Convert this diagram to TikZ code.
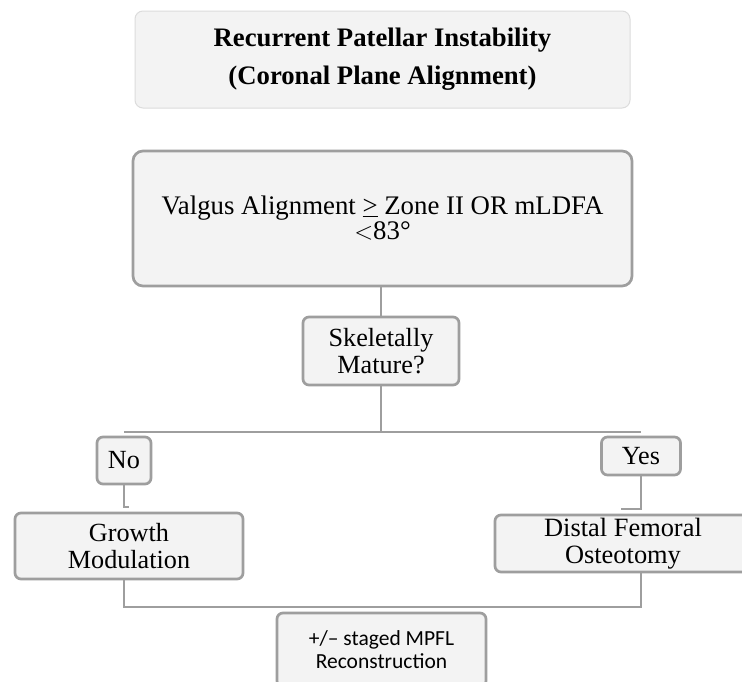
\documentclass[tikz,border=0pt]{standalone}
\usepackage{fontspec}
\setmainfont{Liberation Serif}
\newfontfamily\calib{Carlito}
\definecolor{boxfill}{HTML}{F3F3F3}
\definecolor{linegray}{HTML}{9E9E9E}
\definecolor{titleedge}{HTML}{DCDCDC}
\begin{document}
\begin{tikzpicture}[x=1pt,y=-1pt,
  flowbox/.style={draw=linegray, line width=2.7pt, fill=boxfill, rounded corners=6pt,
    inner sep=0pt, align=center, font=\fontsize{26.2}{27.5}\selectfont},
  link/.style={draw=linegray, line width=2.7pt}]
\useasboundingbox (0,0) rectangle (742,681);
\fill[white] (0,0) rectangle (742,681);
\clip (0,0) rectangle (742,681);

\node[draw=titleedge, line width=1pt, fill=boxfill, rounded corners=8pt, inner sep=0pt,
  minimum width=495pt, minimum height=97pt, align=center,
  font=\fontsize{26.7}{38}\selectfont\bfseries] (title) at (382.5,59.5)
  {Recurrent Patellar Instability\\(Coronal Plane Alignment)};

\node[flowbox, rounded corners=10pt, minimum width=499pt, minimum height=135pt,
  font=\fontsize{26.8}{25}\selectfont] (valgus) at (382.5,218.5)
  {Valgus Alignment \underline{>} Zone II OR mLDFA\\${<}$83\textdegree};

\node[flowbox, minimum width=156pt, minimum height=68pt] (skel) at (381,351)
  {Skeletally\\Mature?};

\node[flowbox, minimum width=54pt, minimum height=47pt] (no) at (124,460.5) {No};
\node[flowbox, minimum width=79pt, minimum height=38pt] (yes) at (641,456) {Yes};

\node[flowbox, minimum width=228pt, minimum height=66pt] (growth) at (129,546)
  {Growth\\Modulation};
\node[flowbox, minimum width=256pt, minimum height=57pt, font=\fontsize{26.4}{27}\selectfont] (distal) at (623,543.5)
  {Distal Femoral\\Osteotomy};

\node[flowbox, minimum width=209pt, minimum height=74pt, font=\calib\fontsize{21.5}{23}\selectfont] (mpfl) at (381.5,650)
  {+/\textendash{} staged MPFL\\Reconstruction};

% connectors
\coordinate (split) at (381,432);
\coordinate (notick) at (129,507);
\coordinate (yestick) at (621,509);
\coordinate (bus) at (381,607);

\draw[link] (valgus.south -| skel.north) -- (skel.north);
\draw[link] (skel.south) -- (split);
\draw[link] (no.south |- split) -- (yes.south |- split);
\draw[link] (no.south) |- (notick);
\draw[link] (yes.south) |- (yestick);
\draw[link] (growth.south -| no.south) |- (bus) -| (distal.south -| yes.south);
\end{tikzpicture}
\end{document}
